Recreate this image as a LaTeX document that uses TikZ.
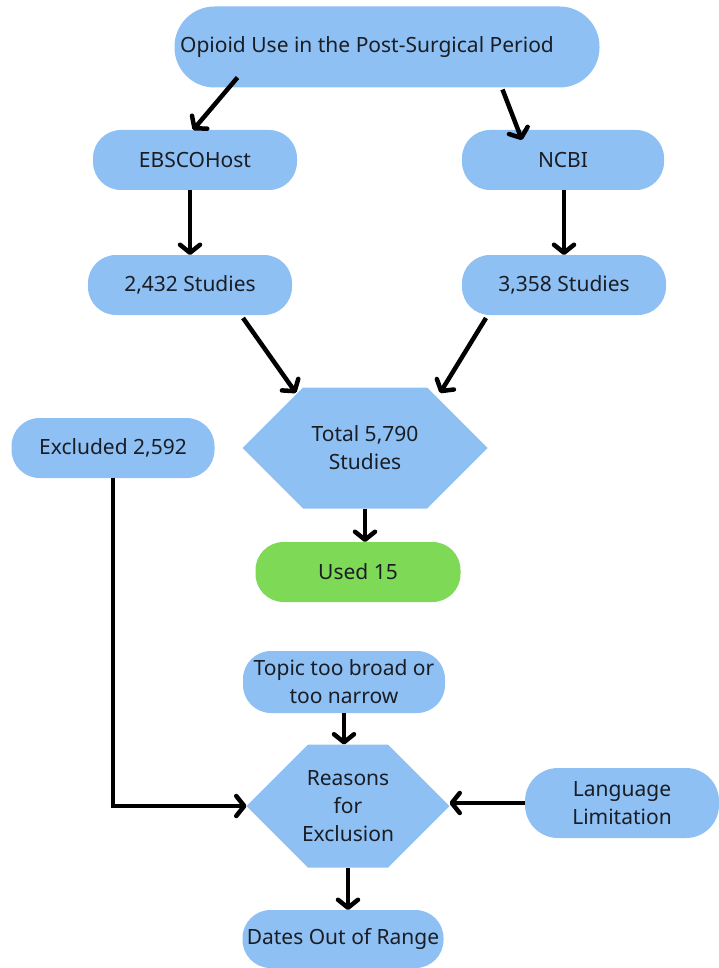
\documentclass[tikz,border=0pt]{standalone}
\usepackage{fontspec}
\setmainfont{Noto Sans}
\usepackage{xcolor}
\usepackage{tikz}
\usetikzlibrary{arrows.meta,calc}
\usetikzlibrary{shapes,positioning}
\definecolor{boxblue}{HTML}{8EC0F4}
\definecolor{boxgreen}{HTML}{7ED957}
\definecolor{inkgrey}{HTML}{1A1D24}

\begin{document}
\begin{tikzpicture}[x=1pt,y=-1pt,inner sep=0,outer sep=0,
   pill/.style={fill=boxblue,rounded corners=28pt,minimum width=204pt,minimum height=60pt,
                align=center,text=inkgrey,font=\fontsize{21}{28}\selectfont},
   hexa/.style={signal,signal to=east and west,signal pointer angle=90,fill=boxblue,
                align=center,text=inkgrey,font=\fontsize{21}{28}\selectfont},
   arr/.style={line width=4.5pt,-{Straight Barb[length=8pt,width=20pt,round]}}]

   \useasboundingbox (0,0) rectangle (719,968);

   % Search topic and databases
   \node[pill,minimum width=425pt,minimum height=81pt,rounded corners=40pt] (title) at (387,47) {Opioid Use in the Post-Surgical Period\hspace{40pt}};
   \node[pill] (ebsco) at (195,160) {EBSCOHost};
   \node[pill,minimum width=202pt] (ncbi) at (563,160) {NCBI};

   % Hits
   \node[pill] (ebscoN) at (190,285) {2,432 Studies};
   \node[pill] (ncbiN) at (564,285) {3,358 Studies};

   % Totals
   \node[hexa,minimum width=245pt,minimum height=121pt] (total) at (365,448) {Total 5,790\\Studies};
   \node[pill,minimum width=203pt] (excl) at (113,448) {Excluded 2,592};
   \node[pill,fill=boxgreen,minimum width=205pt] (used) at (358,572) {Used 15};

   % Exclusion
   \node[pill,minimum width=202pt,minimum height=62pt] (topic) at (344,682) {Topic too broad or\\too narrow};
   \node[hexa,minimum width=203pt,minimum height=123pt,inner xsep=-8pt] (reasons) at (348,806) {Reasons\\for\\Exclusion};
   \node[pill,minimum width=194pt,minimum height=70pt,rounded corners=33pt] (lang) at (622,803) {Language\\Limitation};
   \node[pill,minimum width=201pt,minimum height=58pt] (dates) at (343,939) {Dates Out of Range};

   % Arrows
   \draw[arr] ($(title.south west)+(63,-10)$) -- ($(ebsco.north)+(-2,0)$);
   \draw[arr] ($(title.south east)+(-97,2)$) -- ($(ncbi.north west)+(60,10)$);
   \draw[arr] (ebscoN.north |- ebsco.south) -- (ebscoN.north);
   \draw[arr] (ncbiN.north |- ncbi.south) -- (ncbiN.north);
   \draw[arr] ($(ebscoN.south)+(53,3)$) -- ($(total.center)+(-69,-55)$);
   \draw[arr] ($(ncbiN.south)+(-78,3)$) -- ($(total.center)+(75,-55)$);
   \draw[arr] (total.south) -- (total.south |- used.north);
   \draw[arr] (excl.south) |- (reasons.west);
   \draw[arr] (topic.south) -- (topic.south |- reasons.north);
   \draw[arr] (lang.west) -- (lang.west -| reasons.east);
   \draw[arr] (reasons.south) -- (reasons.south |- dates.north);

\end{tikzpicture}
\end{document}
